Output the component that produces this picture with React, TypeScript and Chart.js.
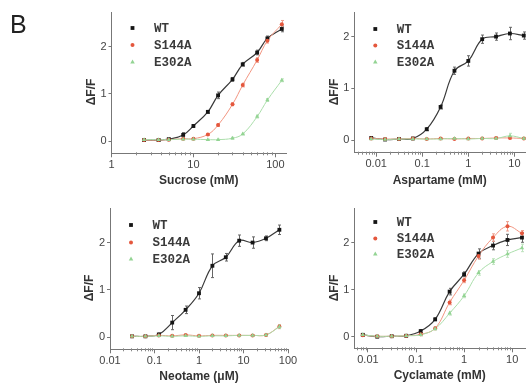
import React, { useEffect, useRef } from "react";
import { Chart, registerables } from "chart.js";
Chart.register(...registerables);

// ---------- data ----------
const SERIES_NAMES = ["WT", "S144A", "E302A"];

const sucroseConc = [2.5, 3.75, 5, 7.5, 10, 15, 20, 30, 40, 60, 80, 120];
const sucroseWT = [0.02, 0.02, 0.04, 0.13, 0.32, 0.62, 0.97, 1.31, 1.63, 1.88, 2.18, 2.38];
const sucroseWTErr = [0.02, 0.02, 0.02, 0.05, 0.03, 0.03, 0.07, 0.04, 0.04, 0.05, 0.05, 0.06];
const sucroseS144A = [0.02, 0.02, 0.03, 0.05, 0.05, 0.14, 0.34, 0.78, 1.19, 1.72, 2.13, 2.48];
const sucroseS144AErr = [0.01, 0.01, 0.01, 0.02, 0.02, 0.02, 0.03, 0.03, 0.04, 0.05, 0.05, 0.08];
const sucroseE302A = [0.03, 0.03, 0.03, 0.04, 0.04, 0.03, 0.03, 0.06, 0.15, 0.52, 0.87, 1.29];
const sucroseE302AErr = [0.01, 0.01, 0.01, 0.01, 0.01, 0.01, 0.01, 0.02, 0.02, 0.03, 0.03, 0.03];

const aspartameConc = [0.0078, 0.0156, 0.03125, 0.0625, 0.125, 0.25, 0.5, 1, 2, 4, 8, 16];
const aspartameWT = [0.04, 0.01, 0.02, 0.03, 0.21, 0.64, 1.34, 1.53, 1.95, 2.0, 2.06, 2.02];
const aspartameWTErr = [0.02, 0.01, 0.01, 0.02, 0.03, 0.04, 0.07, 0.1, 0.08, 0.07, 0.12, 0.07];
const aspartameS144A = [0.03, 0.02, 0.02, 0.03, 0.02, 0.03, 0.02, 0.03, 0.03, 0.04, 0.04, 0.03];
const aspartameS144AErr = [0.01, 0.01, 0.01, 0.01, 0.01, 0.01, 0.01, 0.01, 0.02, 0.02, 0.02, 0.02];
const aspartameE302A = [0.02, 0.01, 0.02, 0.02, 0.02, 0.02, 0.03, 0.02, 0.03, 0.03, 0.08, 0.03];
const aspartameE302AErr = [0.01, 0.01, 0.01, 0.01, 0.01, 0.01, 0.01, 0.01, 0.02, 0.02, 0.05, 0.02];

const neotameConc = [0.03125, 0.0625, 0.125, 0.25, 0.5, 1, 2, 4, 8, 16, 32, 64];
const neotameWT = [0.02, 0.02, 0.06, 0.31, 0.58, 0.93, 1.51, 1.69, 2.04, 2.0, 2.09, 2.27];
const neotameWTErr = [0.01, 0.01, 0.03, 0.15, 0.08, 0.12, 0.25, 0.08, 0.12, 0.12, 0.05, 0.1];
const neotameS144A = [0.02, 0.02, 0.04, 0.03, 0.05, 0.03, 0.04, 0.04, 0.04, 0.04, 0.05, 0.23];
const neotameS144AErr = [0.01, 0.01, 0.01, 0.01, 0.01, 0.01, 0.01, 0.01, 0.01, 0.01, 0.02, 0.04];
const neotameE302A = [0.02, 0.02, 0.03, 0.02, 0.03, 0.02, 0.03, 0.03, 0.04, 0.04, 0.05, 0.22];
const neotameE302AErr = [0.01, 0.01, 0.01, 0.01, 0.01, 0.01, 0.01, 0.01, 0.01, 0.01, 0.02, 0.04];

const cyclamateConc = [0.0078, 0.0156, 0.03125, 0.0625, 0.125, 0.25, 0.5, 1, 2, 4, 8, 16];
const cyclamateWT = [0.04, 0.0, 0.01, 0.02, 0.12, 0.37, 0.96, 1.33, 1.77, 1.94, 2.06, 2.11];
const cyclamateWTErr = [0.02, 0.01, 0.01, 0.02, 0.03, 0.03, 0.07, 0.05, 0.1, 0.09, 0.12, 0.1];
const cyclamateS144A = [0.03, 0.01, 0.01, 0.02, 0.05, 0.18, 0.73, 1.2, 1.72, 2.11, 2.35, 2.2];
const cyclamateS144AErr = [0.02, 0.01, 0.01, 0.02, 0.03, 0.03, 0.05, 0.05, 0.07, 0.08, 0.1, 0.06];
const cyclamateE302A = [0.04, 0.01, 0.01, 0.02, 0.04, 0.17, 0.5, 0.87, 1.36, 1.6, 1.76, 1.89];
const cyclamateE302AErr = [0.02, 0.01, 0.01, 0.02, 0.02, 0.03, 0.04, 0.04, 0.05, 0.06, 0.07, 0.08];

const sucroseTicks = [1, 10, 100];
const aspartameTicks = [0.01, 0.1, 1, 10];
const neotameTicks = [0.01, 0.1, 1, 10, 100];
const cyclamateTicks = [0.01, 0.1, 1, 10];
const yTicks = [0, 1, 2];

// ---------- styles ----------
const POINT_COLORS = ["#151515", "#e4573d", "#93d493"];
const LINE_COLORS = ["#3a3a3a", "#f29580", "#aadeaa"];
const ERR_COLORS = ["#666666", "#ee a090".replace(" ", ""), "#bde2bd"];
const POINT_STYLES = ["rect", "circle", "triangle"];
const POINT_RADII = [2.7, 2, 2.5];
const SANS = "'Liberation Sans', Arial, sans-serif";
const MONO = "'Liberation Mono', 'Courier New', monospace";
const W = 529;
const H = 386;
const Y_AXIS_W = 30;
const X_AXIS_H = 36;

type Panel = {
  title: string;
  conc: number[];
  values: number[][];
  errors: number[][];
  xTicks: number[];
  xMin: number;
  xMax: number;
  yMin: number;
  yMax: number;
  area: { left: number; top: number; right: number; bottom: number };
  legendOffsets: number[];
  letter?: string;
};

const PANELS: Panel[] = [
  {
    title: "Sucrose (mM)",
    conc: sucroseConc,
    values: [sucroseWT, sucroseS144A, sucroseE302A],
    errors: [sucroseWTErr, sucroseS144AErr, sucroseE302AErr],
    xTicks: sucroseTicks,
    xMin: 1,
    xMax: 135,
    yMin: -0.26,
    yMax: 2.74,
    area: { left: 111.5, top: 12, right: 286, bottom: 153.3 },
    legendOffsets: [16, 33, 50],
    letter: "B",
  },
  {
    title: "Aspartame (mM)",
    conc: aspartameConc,
    values: [aspartameWT, aspartameS144A, aspartameE302A],
    errors: [aspartameWTErr, aspartameS144AErr, aspartameE302AErr],
    xTicks: aspartameTicks,
    xMin: 0.00335,
    xMax: 17,
    yMin: -0.245,
    yMax: 2.476,
    area: { left: 354.3, top: 12, right: 529, bottom: 152.7 },
    legendOffsets: [17, 33.5, 50],
  },
  {
    title: "Neotame (\u03bcM)",
    conc: neotameConc,
    values: [neotameWT, neotameS144A, neotameE302A],
    errors: [neotameWTErr, neotameS144AErr, neotameE302AErr],
    xTicks: neotameTicks,
    xMin: 0.01,
    xMax: 100,
    yMin: -0.254,
    yMax: 2.73,
    area: { left: 110, top: 208, right: 288, bottom: 349.3 },
    legendOffsets: [17, 34.5, 51],
  },
  {
    title: "Cyclamate (mM)",
    conc: cyclamateConc,
    values: [cyclamateWT, cyclamateS144A, cyclamateE302A],
    errors: [cyclamateWTErr, cyclamateS144AErr, cyclamateE302AErr],
    xTicks: cyclamateTicks,
    xMin: 0.0052,
    xMax: 18.5,
    yMin: -0.247,
    yMax: 2.74,
    area: { left: 354.3, top: 208, right: 529, bottom: 348.3 },
    legendOffsets: [14, 30.5, 46],
  },
];

function drawMarker(ctx: CanvasRenderingContext2D, style: string, x: number, y: number, r: number, color: string) {
  ctx.save();
  ctx.fillStyle = color;
  ctx.beginPath();
  if (style === "rect") {
    const s = r * Math.SQRT1_2;
    ctx.rect(x - s, y - s, 2 * s, 2 * s);
  } else if (style === "circle") {
    ctx.arc(x, y, r, 0, Math.PI * 2);
  } else {
    ctx.moveTo(x, y - r);
    ctx.lineTo(x + r * 0.9, y + r * 0.6);
    ctx.lineTo(x - r * 0.9, y + r * 0.6);
    ctx.closePath();
  }
  ctx.fill();
  ctx.restore();
}

function makeOverlay(panel: Panel) {
  return {
    id: "overlay",
    beforeDatasetsDraw(chart: any) {
      const ctx: CanvasRenderingContext2D = chart.ctx;
      const xs = chart.scales.x;
      const ys = chart.scales.y;
      panel.errors.forEach((errs, si) => {
        ctx.save();
        ctx.strokeStyle = ERR_COLORS[si];
        ctx.lineWidth = 1;
        errs.forEach((e, j) => {
          const v = panel.values[si][j];
          const px = Math.round(xs.getPixelForValue(panel.conc[j])) + 0.5;
          const y1 = ys.getPixelForValue(v - e);
          const y2 = ys.getPixelForValue(v + e);
          ctx.beginPath();
          ctx.moveTo(px, y1);
          ctx.lineTo(px, y2);
          ctx.moveTo(px - 1.5, y1);
          ctx.lineTo(px + 1.5, y1);
          ctx.moveTo(px - 1.5, y2);
          ctx.lineTo(px + 1.5, y2);
          ctx.stroke();
        });
        ctx.restore();
      });
    },
    afterDraw(chart: any) {
      const ctx: CanvasRenderingContext2D = chart.ctx;
      const xs = chart.scales.x;
      const area = chart.chartArea;
      // minor log ticks
      ctx.save();
      ctx.strokeStyle = "#888";
      ctx.lineWidth = 1;
      const lo = Math.floor(Math.log10(panel.xMin));
      const hi = Math.ceil(Math.log10(panel.xMax));
      for (let d = lo; d <= hi; d++) {
        for (let k = 2; k <= 9; k++) {
          const v = k * Math.pow(10, d);
          if (v < panel.xMin || v > panel.xMax) continue;
          const px = Math.round(xs.getPixelForValue(v)) + 0.5;
          ctx.beginPath();
          ctx.moveTo(px, area.bottom - 1);
          ctx.lineTo(px, area.bottom + 2);
          ctx.stroke();
        }
      }
      ctx.restore();
      // y title
      ctx.save();
      ctx.translate(area.left - 20, area.top + 80);
      ctx.rotate(-Math.PI / 2);
      ctx.font = `bold 12px ${SANS}`;
      ctx.fillStyle = "#333";
      ctx.textAlign = "center";
      ctx.textBaseline = "middle";
      ctx.fillText("\u0394F/F", 0, 0);
      ctx.restore();
      // legend
      ctx.save();
      SERIES_NAMES.forEach((name, i) => {
        const y = area.top + panel.legendOffsets[i];
        drawMarker(ctx, POINT_STYLES[i], area.left + 21, y, POINT_RADII[i], POINT_COLORS[i]);
        ctx.font = `bold 12.5px ${MONO}`;
        ctx.fillStyle = "#3a3a3a";
        ctx.textAlign = "left";
        ctx.textBaseline = "middle";
        ctx.fillText(name, area.left + 42.5, y + 0.5);
      });
      ctx.restore();
      // panel letter
      if (panel.letter) {
        ctx.save();
        ctx.font = `25px ${SANS}`;
        ctx.fillStyle = "#222";
        ctx.textAlign = "left";
        ctx.textBaseline = "alphabetic";
        ctx.fillText(panel.letter, 10, 33);
        ctx.restore();
      }
    },
  };
}

function buildConfig(panel: Panel): any {
  const lineSets = panel.values.map((vals, i) => ({
    label: SERIES_NAMES[i] + " fit",
    data: panel.conc.map((c, j) => ({ x: c, y: vals[j] })),
    borderColor: LINE_COLORS[i],
    borderWidth: i === 0 ? 1.2 : 1,
    pointRadius: 0,
    fill: false,
    tension: 0.4,
    order: 6 - i,
  }));
  const pointSets = panel.values.map((vals, i) => ({
    label: SERIES_NAMES[i],
    data: panel.conc.map((c, j) => ({ x: c, y: vals[j] })),
    showLine: false,
    pointStyle: POINT_STYLES[i],
    pointRadius: POINT_RADII[i],
    pointBackgroundColor: POINT_COLORS[i],
    pointBorderColor: POINT_COLORS[i],
    pointBorderWidth: 0,
    borderColor: POINT_COLORS[i],
    clip: false,
    order: 3 - i,
  }));
  const a = panel.area;
  const axisColor = "#777";
  return {
    type: "line",
    data: { datasets: [...lineSets, ...pointSets] },
    options: {
      animation: false,
      responsive: false,
      devicePixelRatio: 1,
      events: [],
      layout: {
        padding: {
          left: a.left - Y_AXIS_W,
          top: a.top,
          right: W - a.right,
          bottom: H - a.bottom - X_AXIS_H,
        },
      },
      plugins: { legend: { display: false }, tooltip: { enabled: false } },
      scales: {
        x: {
          type: "logarithmic",
          position: "bottom",
          min: panel.xMin,
          max: panel.xMax,
          afterBuildTicks: (s: any) => {
            s.ticks = panel.xTicks.map((v) => ({ value: v }));
          },
          afterFit: (s: any) => {
            s.height = X_AXIS_H;
            s.paddingLeft = 0;
            s.paddingRight = 0;
            s.paddingTop = 0;
            s.paddingBottom = 0;
          },
          grid: { display: true, drawOnChartArea: false, drawTicks: true, tickLength: 4, color: axisColor },
          border: { display: true, color: axisColor, width: 1 },
          ticks: {
            autoSkip: false,
            maxRotation: 0,
            padding: 1,
            color: "#444",
            font: { family: SANS, size: 11 },
            callback: (v: any) => String(v),
          },
          title: {
            display: true,
            text: panel.title,
            color: "#333",
            font: { family: SANS, size: 12, weight: "bold" },
            padding: { top: 0, bottom: 1 },
          },
        },
        y: {
          type: "linear",
          position: "left",
          min: panel.yMin,
          max: panel.yMax,
          afterBuildTicks: (s: any) => {
            s.ticks = yTicks.map((v) => ({ value: v }));
          },
          afterFit: (s: any) => {
            s.width = Y_AXIS_W;
            s.paddingLeft = 0;
            s.paddingRight = 0;
            s.paddingTop = 0;
            s.paddingBottom = 0;
          },
          grid: { display: true, drawOnChartArea: false, drawTicks: true, tickLength: 3, color: axisColor },
          border: { display: true, color: axisColor, width: 1 },
          ticks: {
            padding: 2,
            color: "#444",
            font: { family: SANS, size: 11 },
            callback: (v: any) => String(v),
          },
        },
      },
    },
    plugins: [makeOverlay(panel)],
  };
}

function PanelChart({ panel }: { panel: Panel }) {
  const ref = useRef<HTMLCanvasElement>(null);
  useEffect(() => {
    const chart = new Chart(ref.current as HTMLCanvasElement, buildConfig(panel));
    return () => chart.destroy();
  }, [panel]);
  return (
    <canvas
      ref={ref}
      width={W}
      height={H}
      style={{ position: "absolute", left: 0, top: 0, width: W, height: H }}
    />
  );
}

export default function App() {
  return (
    <div
      style={{
        position: "fixed",
        left: 0,
        top: 0,
        width: W,
        height: H,
        background: "#fff",
        overflow: "hidden",
      }}
    >
      {PANELS.map((p, i) => (
        <PanelChart key={i} panel={p} />
      ))}
    </div>
  );
}
